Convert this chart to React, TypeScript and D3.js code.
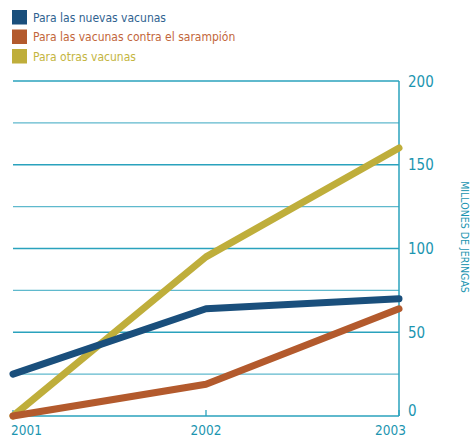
import React from "react";
import * as d3 from "d3";

const years = [2001, 2002, 2003];
const nuevas = [25, 64, 70];
const sarampion = [0, 19, 64];
const otras = [0, 95, 160];
const yTicks = [0, 50, 100, 150, 200];
const gridTicks = [0, 25, 50, 75, 100, 125, 150, 175, 200];
const legendLabels = [
  "Para las nuevas vacunas",
  "Para las vacunas contra el sarampión",
  "Para otras vacunas",
];
const axisTitle = "MILLONES DE JERINGAS";

const seriesColors = ["#1a4f7c", "#b35a2d", "#bfae3b"];
const textColors = ["#2f6290", "#c2663b", "#c4b540"];
const teal = "#2aa2bd";
const labelTeal = "#1b95b0";
const font = "'Liberation Sans Narrow', 'DejaVu Sans Condensed', sans-serif";

export default function App() {
  const W = 473, H = 438;
  const x = d3.scaleLinear().domain([2001, 2003]).range([13, 399]);
  const y = d3.scaleLinear().domain([0, 200]).range([416, 81]);
  const line = d3
    .line<number>()
    .x((_, i) => x(years[i]))
    .y((d) => y(d));
  const series = [nuevas, sarampion, otras];
  const drawOrder = [2, 0, 1];
  return (
    <svg
      width={W}
      height={H}
      style={{ position: "absolute", left: 0, top: 0 }}
      fontFamily={font}
    >
      <rect width={W} height={H} fill="#fff" />
      {legendLabels.map((l, i) => (
        <g key={l}>
          <rect x={12} y={10 + i * 19.5} width={15} height={14.5} fill={seriesColors[i]} />
          <text x={33} y={21.5 + i * 19.5} fontSize={12} fill={textColors[i]}>
            {l}
          </text>
        </g>
      ))}
      {gridTicks.map((t) => (
        <line
          key={t}
          x1={13}
          x2={399}
          y1={y(t)}
          y2={y(t)}
          stroke={teal}
          strokeWidth={1.3}
          opacity={t % 50 === 0 ? 1 : 0.75}
        />
      ))}
      <line x1={399} x2={399} y1={y(200)} y2={y(0)} stroke={teal} strokeWidth={1.5} />
      {years.map((yr) => (
        <line key={yr} x1={x(yr)} x2={x(yr)} y1={y(0) - 6} y2={y(0)} stroke={teal} strokeWidth={1.3} />
      ))}
      {yTicks.map((t) => (
        <text
          key={t}
          x={408}
          y={t === 0 ? y(t) - 0.5 : y(t) + 5.5}
          fontSize={15}
          fill={labelTeal}
        >
          {t}
        </text>
      ))}
      {years.map((yr, i) => (
        <text
          key={yr}
          x={i === 0 ? 11 : i === 1 ? x(yr) : 406}
          y={435}
          fontSize={13.5}
          fill={labelTeal}
          textAnchor={i === 0 ? "start" : i === 1 ? "middle" : "end"}
        >
          {yr}
        </text>
      ))}
      <text
        transform={`translate(461, 237) rotate(90)`}
        textAnchor="middle"
        fontSize={10.5}
        fill={labelTeal}
      >
        {axisTitle}
      </text>
      {drawOrder.map((i) => (
        <path
          key={i}
          d={line(series[i]) || ""}
          fill="none"
          stroke={seriesColors[i]}
          strokeWidth={7}
          strokeLinecap="round"
          strokeLinejoin="round"
        />
      ))}
    </svg>
  );
}
